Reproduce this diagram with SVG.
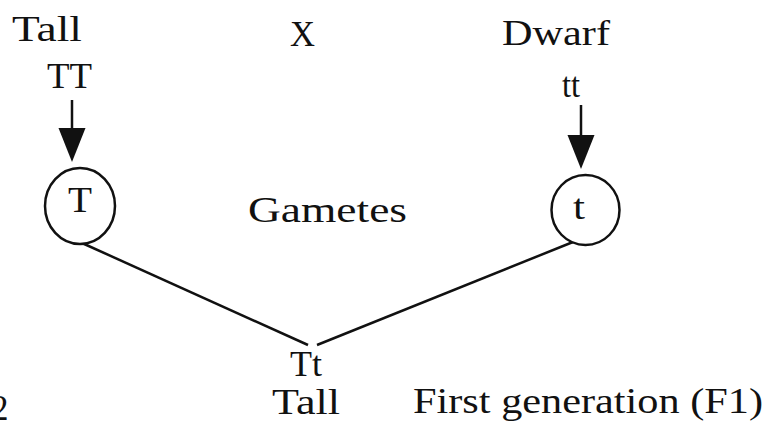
<svg xmlns="http://www.w3.org/2000/svg" width="770" height="421" viewBox="0 0 770 421">
  <style>
    text { font-family: "Liberation Serif", "Times New Roman", serif; font-size: 35px; fill: #111; }
    .ring { fill: #fff; stroke: #111; stroke-width: 2.5; }
    .wire { stroke: #111; stroke-width: 2.5; fill: none; }
  </style>
  <defs>
    <marker id="head" markerUnits="userSpaceOnUse" viewBox="0 -14 34 28" refX="0" refY="0" markerWidth="34" markerHeight="28" orient="auto">
      <path d="M0,-13.5 L34,0 L0,13.5 Z" fill="#111"/>
    </marker>
  </defs>

  <rect width="770" height="421" fill="#fff"/>

  <!-- cross labels -->
  <g id="parent-tall">
    <text x="12" y="41" textLength="70" lengthAdjust="spacingAndGlyphs">Tall</text>
    <text x="47" y="88" textLength="45" lengthAdjust="spacingAndGlyphs">TT</text>
  </g>
  <g id="cross-sign">
    <text x="290" y="46" textLength="25" lengthAdjust="spacingAndGlyphs">X</text>
  </g>
  <g id="parent-dwarf">
    <text x="502" y="45" textLength="108" lengthAdjust="spacingAndGlyphs">Dwarf</text>
    <text x="562" y="97" textLength="18" lengthAdjust="spacingAndGlyphs">tt</text>
  </g>

  <!-- connectors -->
  <g id="connectors">
    <line class="wire" x1="72" y1="100" x2="72" y2="128" marker-end="url(#head)"/>
    <line class="wire" x1="581" y1="105" x2="581" y2="135" marker-end="url(#head)"/>
    <line class="wire" x1="82" y1="243" x2="308" y2="345"/>
    <line class="wire" x1="573" y1="242" x2="317" y2="345"/>
  </g>

  <!-- gametes -->
  <g id="gamete-T">
    <ellipse class="ring" cx="80" cy="206" rx="35" ry="38"/>
    <text x="68" y="212" textLength="24" lengthAdjust="spacingAndGlyphs">T</text>
  </g>
  <g id="gametes-label">
    <text x="248" y="222" textLength="159" lengthAdjust="spacingAndGlyphs">Gametes</text>
  </g>
  <g id="gamete-t">
    <ellipse class="ring" cx="585.5" cy="210" rx="34" ry="35"/>
    <text x="573" y="219" textLength="12" lengthAdjust="spacingAndGlyphs">t</text>
  </g>

  <!-- offspring -->
  <g id="offspring">
    <text x="290" y="376" textLength="32" lengthAdjust="spacingAndGlyphs">Tt</text>
    <text x="272" y="414" textLength="68" lengthAdjust="spacingAndGlyphs">Tall</text>
  </g>
  <g id="generation-label">
    <text x="413" y="413" textLength="350" lengthAdjust="spacingAndGlyphs">First generation (F1)</text>
  </g>
  <g id="edge-mark">
    <text x="-9" y="420" font-size="24">2</text>
  </g>
</svg>
